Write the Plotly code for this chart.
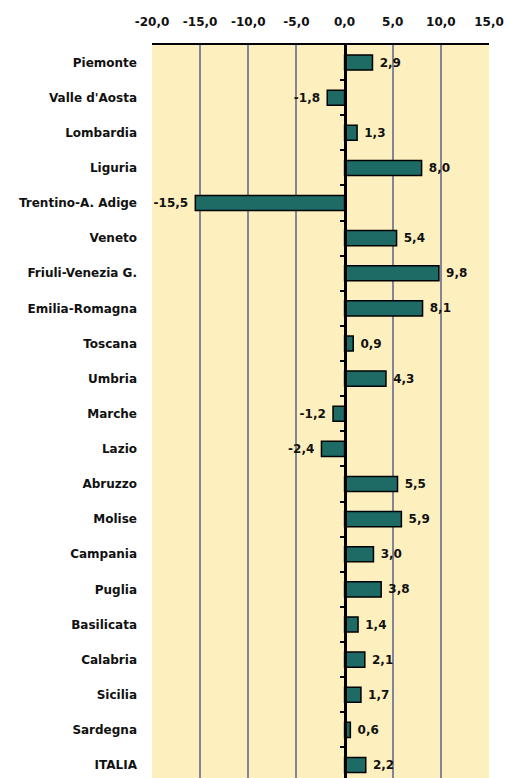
import plotly.graph_objects as go

# Regional values (percent change), top to bottom
regions = ["Piemonte", "Valle d'Aosta", "Lombardia", "Liguria", "Trentino-A. Adige",
           "Veneto", "Friuli-Venezia G.", "Emilia-Romagna", "Toscana", "Umbria",
           "Marche", "Lazio", "Abruzzo", "Molise", "Campania", "Puglia",
           "Basilicata", "Calabria", "Sicilia", "Sardegna", "ITALIA"]
values = [2.9, -1.8, 1.3, 8.0, -15.5, 5.4, 9.8, 8.1, 0.9, 4.3,
          -1.2, -2.4, 5.5, 5.9, 3.0, 3.8, 1.4, 2.1, 1.7, 0.6, 2.2]

x_ticks = [-20, -15, -10, -5, 0, 5, 10, 15]
x_ticktext = ["-20,0", "-15,0", "-10,0", "-5,0", "0,0", "5,0", "10,0", "15,0"]

# value labels with decimal comma, padded away from the bar end
labels = [(" " + f"{v:.1f}" if v >= 0 else f"{v:.1f}" + " ").replace(".", ",")
          for v in values]

FONT = "DejaVu Sans, Verdana, sans-serif"
n = len(regions)
y_range = [n - 1 + 0.37, -0.5]

fig = go.Figure()
fig.add_trace(go.Bar(
    x=values, y=list(range(n)), orientation="h",
    marker=dict(color="#1E6B66", line=dict(color="#000000", width=1.5)),
    text=labels, textposition="outside",
    textfont=dict(family=FONT, size=12, color="#111111", weight="bold"),
    cliponaxis=False, width=0.43,
))

fig.update_layout(
    width=528, height=778,
    margin=dict(l=152, r=39, t=45, b=0),
    paper_bgcolor="white", plot_bgcolor="#FDF0BE",
    showlegend=False,
    xaxis=dict(
        range=[-20, 15], side="top", tickvals=x_ticks, ticktext=x_ticktext,
        tickfont=dict(family=FONT, size=12, color="#111111", weight="bold"),
        showgrid=True, gridcolor="#85859A", gridwidth=1.5,
        zeroline=False, showline=True, linecolor="#000000", linewidth=2,
        ticks="", ticklabelstandoff=12, fixedrange=True,
    ),
    yaxis=dict(
        range=y_range, tickvals=list(range(n)), ticktext=regions,
        tickfont=dict(family=FONT, size=12, color="#111111", weight="bold"),
        showgrid=False, zeroline=False, showline=False, ticks="",
        ticklabelstandoff=14, fixedrange=True,
    ),
    yaxis2=dict(
        overlaying="y", anchor="free", position=20 / 35, side="left",
        range=y_range, tickvals=[i + 0.5 for i in range(n - 1)],
        showticklabels=False, ticks="outside", ticklen=4, tickwidth=2,
        tickcolor="#000000", showline=True, linecolor="#000000", linewidth=2.5,
        showgrid=False, zeroline=False, fixedrange=True,
    ),
)

# invisible trace so the zero axis is drawn
fig.add_trace(go.Scatter(x=[0], y=[0], yaxis="y2", mode="markers",
                         marker=dict(opacity=0), hoverinfo="skip"))

fig.write_html("out.html")
